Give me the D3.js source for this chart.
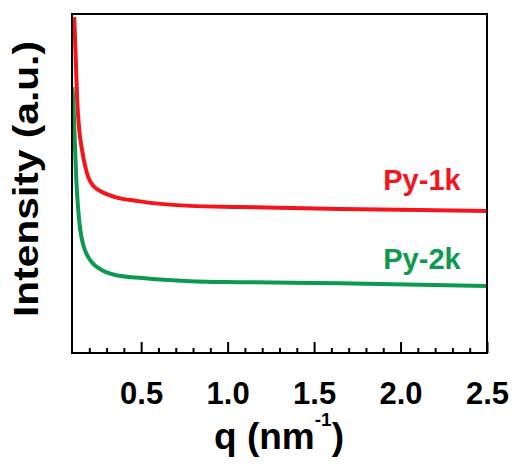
<!DOCTYPE html>
<html>
<head>
<meta charset="utf-8">
<script src="https://cdn.jsdelivr.net/npm/d3@7/dist/d3.min.js"></script>
<style>
  html, body { margin: 0; padding: 0; background: #fff; }
  svg text { font-family: "Liberation Sans", Arial, sans-serif; font-weight: bold; }
</style>
</head>
<body>
<svg id="chart" width="516" height="464"></svg>
<script>
// SAXS profiles: scattering vector q (nm^-1) vs. intensity (arbitrary units)
const py1kQ = [0.113, 0.122, 0.130, 0.142, 0.158, 0.177, 0.194, 0.223, 0.252, 0.350, 0.483, 0.783, 1.07, 1.65, 2.11, 2.5];
const py1kI = [99.1, 86.4, 74.6, 65.8, 59.9, 54.9, 51.9, 49.3, 48.1, 46.0, 44.8, 43.4, 43.1, 42.5, 42.2, 41.9];

const py2kQ = [0.102, 0.107, 0.116, 0.125, 0.136, 0.148, 0.165, 0.194, 0.223, 0.252, 0.350, 0.506, 0.783, 1.07, 1.65, 2.11, 2.5];
const py2kI = [78.5, 74.6, 62.8, 51.0, 42.2, 36.3, 31.9, 28.3, 26.3, 25.1, 23.0, 22.1, 21.2, 20.9, 20.6, 20.1, 19.8];

const seriesNames = ["Py-1k", "Py-2k"];
const seriesColors = ["#f5141c", "#0c9a4e"];

const majorTicks = [0.5, 1.0, 1.5, 2.0, 2.5];
const minorTicks = d3.range(2, 25).map(d => d / 10).filter(d => !majorTicks.some(m => Math.abs(m - d) < 1e-9));

const xDomain = [0.1, 2.5];
const yDomain = [0, 100];

const svg = d3.select("#chart");
const margin = { left: 72, top: 14, right: 29, bottom: 111 };
const W = 516, H = 464;
const x = d3.scaleLinear().domain(xDomain).range([margin.left, W - margin.right]);
const y = d3.scaleLinear().domain(yDomain).range([H - margin.bottom, margin.top]);

svg.append("clipPath").attr("id", "plot-clip")
  .append("rect")
  .attr("x", margin.left).attr("y", margin.top)
  .attr("width", x.range()[1] - x.range()[0])
  .attr("height", y.range()[0] - y.range()[1]);

const line = d3.line()
  .x(d => x(d[0]))
  .y(d => y(d[1]))
  .curve(d3.curveMonotoneX);

const series = [
  { name: seriesNames[0], color: seriesColors[0], pts: d3.zip(py1kQ, py1kI), labelQ: 1.9, labelI: 48.1 },
  { name: seriesNames[1], color: seriesColors[1], pts: d3.zip(py2kQ, py2kI), labelQ: 1.9, labelI: 24.8 }
];

const g = svg.append("g").attr("clip-path", "url(#plot-clip)");
series.forEach(s => {
  g.append("path")
    .datum(s.pts)
    .attr("fill", "none")
    .attr("stroke", s.color)
    .attr("stroke-width", 4)
    .attr("stroke-linejoin", "round")
    .attr("d", line);
});

// Frame
svg.append("rect")
  .attr("x", margin.left).attr("y", margin.top)
  .attr("width", x.range()[1] - x.range()[0])
  .attr("height", y.range()[0] - y.range()[1])
  .attr("fill", "none").attr("stroke", "#000").attr("stroke-width", 2);

// Bottom axis: inward ticks
const xAxisMajor = d3.axisBottom(x).tickValues(majorTicks).tickSize(-11).tickPadding(29)
  .tickFormat(d3.format(".1f"));
const xAxisMinor = d3.axisBottom(x).tickValues(minorTicks).tickSize(-5).tickFormat("");

const gxMinor = svg.append("g").attr("transform", `translate(0,${y.range()[0]})`).call(xAxisMinor);
const gx = svg.append("g").attr("transform", `translate(0,${y.range()[0]})`).call(xAxisMajor);
[gx, gxMinor].forEach(a => {
  a.select(".domain").remove();
  a.selectAll(".tick line").attr("stroke", "#000").attr("stroke-width", 2);
});
gx.selectAll(".tick text")
  .attr("fill", "#000")
  .attr("font-size", 31)
  .attr("font-family", "'Liberation Sans', Arial, sans-serif")
  .attr("font-weight", "bold");

// Axis titles
const xt = svg.append("text")
  .attr("x", 279).attr("y", 449)
  .attr("text-anchor", "middle")
  .attr("font-size", 37)
  .attr("fill", "#000");
xt.append("tspan").text("q (nm");
xt.append("tspan").attr("dy", -23).attr("font-size", 19).text("-1");
xt.append("tspan").attr("dy", 23).text(")");

svg.append("text")
  .attr("transform", `translate(38,179) rotate(-90)`)
  .attr("text-anchor", "middle")
  .attr("font-size", 35)
  .attr("textLength", 276)
  .attr("lengthAdjust", "spacingAndGlyphs")
  .attr("fill", "#000")
  .text("Intensity (a.u.)");

// Series labels
series.forEach(s => {
  svg.append("text")
    .attr("x", x(s.labelQ)).attr("y", y(s.labelI))
    .attr("font-size", 29)
    .attr("fill", s.color)
    .text(s.name);
});
</script>
</body>
</html>
